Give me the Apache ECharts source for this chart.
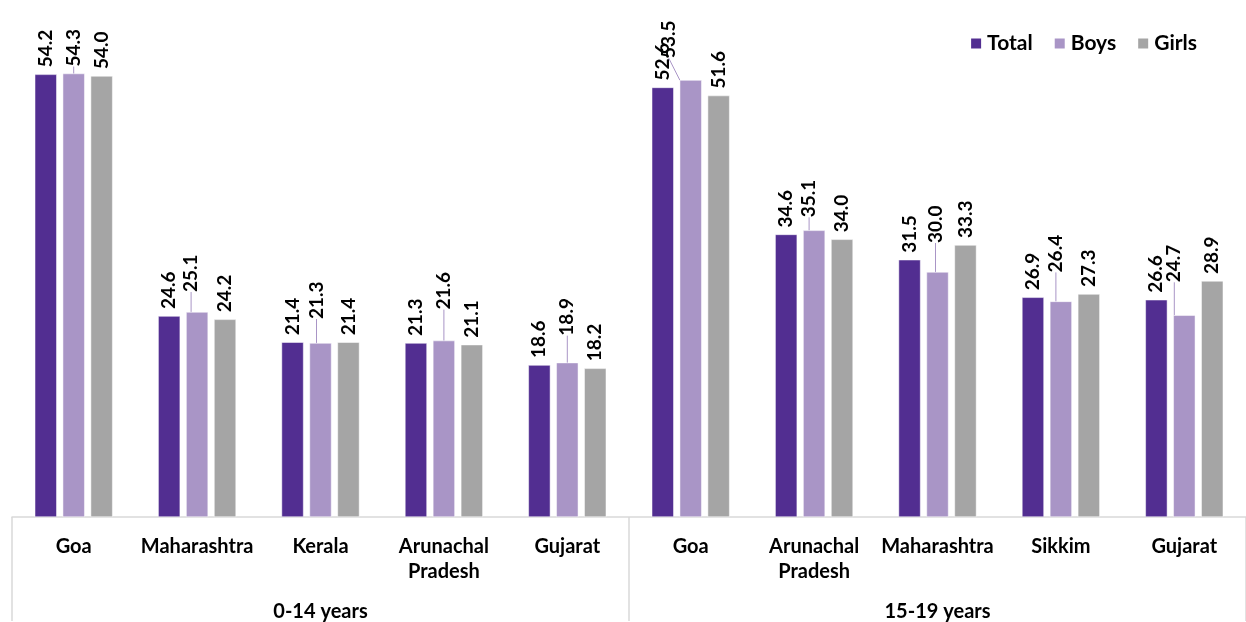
<!DOCTYPE html>
<html>
<head>
<meta charset="utf-8">
<script src="https://cdn.jsdelivr.net/npm/echarts@6/dist/echarts.min.js"></script>
<style>
    html, body { margin: 0; padding: 0; background: #fff; }
    #main { width: 1246px; height: 622px; }
</style>
</head>
<body>
<div id="main"></div>
<script>
// data
var states = ['Goa', 'Maharashtra', 'Kerala', 'Arunachal\nPradesh', 'Gujarat',
              'Goa', 'Arunachal\nPradesh', 'Maharashtra', 'Sikkim', 'Gujarat'];
var ageGroups = ['0-14 years', '15-19 years'];
var total = [54.2, 24.6, 21.4, 21.3, 18.6, 52.6, 34.6, 31.5, 26.9, 26.6];
var boys  = [54.3, 25.1, 21.3, 21.6, 18.9, 53.5, 35.1, 30.0, 26.4, 24.7];
var girls = [54.0, 24.2, 21.4, 21.1, 18.2, 51.6, 34.0, 33.3, 27.3, 28.9];

// how far the Boys labels are pulled away from their bars on screen (px)
var boysShiftX = [0, -6, -4, 0, 0, -22, -5, -2, -5, -10];
var boysShiftY = [0, -13, -17, -24, -20, -15, -6, -22, -22, -26];

var chart = echarts.init(document.getElementById('main'));

function makeSeries(name, data, color) {
    return {
        name: name,
        type: 'bar',
        data: data,
        barWidth: 22,
        barGap: '27%',
        itemStyle: { color: color, borderColor: '#fff', borderWidth: 0.5 },
        label: {
            show: true,
            position: 'top',
            rotate: 90,
            align: 'left',
            verticalAlign: 'middle',
            distance: 7,
            color: '#000',
            fontFamily: 'Lato',
            fontWeight: 'bold',
            fontSize: 19,
            formatter: function (p) { return p.value.toFixed(1); }
        }
    };
}

var boysSeries = makeSeries('Boys', boys, '#A995C6');
boysSeries.labelLine = { show: true };
// label is rotated 90deg, so its local x points up and local y points right
boysSeries.labelLayout = function (p) {
    return { dx: -boysShiftY[p.dataIndex], dy: boysShiftX[p.dataIndex] };
};

chart.setOption({
    animation: false,
    legend: {
        right: 44,
        top: 28,
        icon: 'rect',
        itemWidth: 12,
        itemHeight: 12,
        itemGap: 20,
        textStyle: { fontFamily: 'Lato', fontWeight: 'bold', fontSize: 21, color: '#000' },
        data: ['Total', 'Boys', 'Girls']
    },
    grid: { left: 12, top: 27, width: 1247, bottom: 104 },
    xAxis: [
        {
            type: 'category',
            data: states,
            axisLine: { show: true, lineStyle: { color: '#D9D9D9', width: 1.5 } },
            axisTick: { show: false },
            axisLabel: {
                interval: 0,
                margin: 17,
                color: '#000',
                fontFamily: 'Lato',
                fontWeight: 'bold',
                fontSize: 20,
                lineHeight: 25
            }
        },
        {
            type: 'category',
            data: ageGroups,
            position: 'bottom',
            axisLine: { show: false },
            axisTick: { show: true, length: 104, lineStyle: { color: '#D9D9D9', width: 1.5 } },
            axisLabel: {
                margin: 85,
                color: '#000',
                fontFamily: 'Lato',
                fontWeight: 'bold',
                fontSize: 20
            }
        }
    ],
    yAxis: {
        type: 'value',
        min: 0,
        max: 60,
        show: false
    },
    series: [
        makeSeries('Total', total, '#522E91'),
        boysSeries,
        makeSeries('Girls', girls, '#A5A5A5')
    ]
});
</script>
</body>
</html>
